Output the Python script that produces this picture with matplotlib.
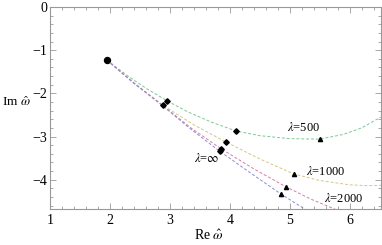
import numpy as np
import matplotlib.pyplot as plt
from matplotlib.ticker import MultipleLocator

plt.rcParams['font.family'] = 'Liberation Serif'
plt.rcParams['mathtext.fontset'] = 'stix'

# curves (Re, Im)
re_500 = [1.95, 2.3, 2.6, 2.95, 3.3, 3.7, 4.1, 4.5, 5.0, 5.5, 5.9, 6.2, 6.52]
im_500 = [-1.23, -1.6, -1.88, -2.17, -2.43, -2.67, -2.87, -2.98, -3.05, -3.06, -2.95, -2.8, -2.55]

re_1000 = [1.95, 2.4, 2.88, 3.4, 3.94, 4.5, 5.07, 5.5, 6.0, 6.3, 6.52]
im_1000 = [-1.23, -1.75, -2.27, -2.73, -3.13, -3.52, -3.87, -4.02, -4.12, -4.14, -4.13]

re_2000 = [1.95, 2.4, 2.88, 3.35, 3.85, 4.4, 4.93, 5.35, 5.78]
im_2000 = [-1.23, -1.76, -2.28, -2.8, -3.28, -3.75, -4.16, -4.45, -4.7]

re_inf = [1.95, 2.4, 2.88, 3.35, 3.83, 4.35, 4.85, 5.27]
im_inf = [-1.23, -1.77, -2.29, -2.83, -3.34, -3.85, -4.33, -4.7]

# marked points
start_re, start_im = [1.95], [-1.23]
diam_re = [2.95, 2.88, 4.1, 3.94, 3.85, 3.83]
diam_im = [-2.17, -2.27, -2.87, -3.13, -3.28, -3.34]
tri_re = [5.5, 5.07, 4.93, 4.85]
tri_im = [-3.05, -3.87, -4.16, -4.33]

fig = plt.figure(figsize=(3.82, 2.45), dpi=100)
ax = fig.add_axes([0.131, 0.147, 0.866, 0.824])

ax.plot(re_500, im_500, '--', color='#7cc896', lw=0.7, dashes=(3, 2))
ax.plot(re_1000, im_1000, '--', color='#d2c884', lw=0.7, dashes=(3, 2))
ax.plot(re_2000, im_2000, '--', color='#d27eaa', lw=0.7, dashes=(3, 2))
ax.plot(re_inf, im_inf, '--', color='#8c8ad8', lw=0.7, dashes=(3, 2))

ax.plot(start_re, start_im, 'o', color='black', ms=4.3)
ax.plot(diam_re, diam_im, 'D', color='black', ms=2.8, ls='none')
ax.plot(tri_re, tri_im, '^', color='black', ms=3.0, ls='none')

ax.text(5.23, -2.78, r'$\lambda$=500', fontsize=9, ha='center', va='center')
ax.text(5.6, -3.82, r'$\lambda$=1000', fontsize=9, ha='center', va='center')
ax.text(5.9, -4.44, r'$\lambda$=2000', fontsize=9, ha='center', va='center')
ax.text(3.62, -3.5, r'$\lambda$=$\infty$', fontsize=9, ha='center', va='center')

ax.set_xlim(1, 6.52)
ax.set_ylim(-4.68, 0)
ax.xaxis.set_major_locator(MultipleLocator(1))
ax.xaxis.set_minor_locator(MultipleLocator(0.2))
ax.yaxis.set_major_locator(MultipleLocator(1))
ax.yaxis.set_minor_locator(MultipleLocator(0.2))
ax.tick_params(which='both', direction='in', top=True, right=True, color='#999999',
               labelsize=10, width=0.6)
ax.tick_params(which='major', length=4)
ax.tick_params(which='minor', length=2)
ax.tick_params(axis='y', pad=2)
for s in ax.spines.values():
    s.set_color('#999999')
    s.set_linewidth(0.8)

ax.set_xlabel(r'Re $\hat{\omega}$', fontsize=10)
ax.set_ylabel(r'Im $\hat{\omega}$', fontsize=9.5, rotation=0, va='center', ha='left')
ax.xaxis.set_label_coords(0.48, -0.1)
ax.yaxis.set_label_coords(-0.145, 0.53)

fig.savefig('out.png', dpi=100)
